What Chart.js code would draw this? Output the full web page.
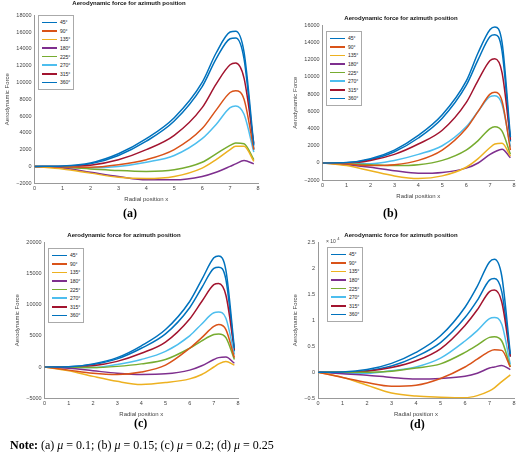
<!DOCTYPE html>
<html>
<head>
<meta charset="utf-8">
<script src="https://cdn.jsdelivr.net/npm/chart.js@4.4.1/dist/chart.umd.min.js"></script>
<style>
  body { margin: 0; background: #fff; width: 520px; height: 459px; position: relative; overflow: hidden; font-family: "Liberation Sans", Arial, sans-serif; }
  .panel { position: absolute; }
  .legend { position: absolute; background: #fff; border: 1px solid #aaa; padding: 2px 3px; font-size: 5px; color: #222; }
  .legend div { display: flex; align-items: center; height: 8.6px; }
  .legend span.sw { display: inline-block; width: 15px; height: 1.6px; margin-right: 3px; }
  .cap { position: absolute; font-family: "Liberation Serif", "Times New Roman", serif; font-weight: bold; font-size: 12px; }
  .note { position: absolute; left: 10px; top: 438px; font-family: "Liberation Serif", "Times New Roman", serif; font-size: 12px; }
  .exp { position: absolute; font-size: 5px; color: #444; }
</style>
</head>
<body>
<div class="panel" style="left:0;top:0;width:262px;height:207px"><canvas id="ca"></canvas></div>
<div class="panel" style="left:288px;top:15px;width:230px;height:189px"><canvas id="cb"></canvas></div>
<div class="panel" style="left:10px;top:232px;width:232px;height:190px"><canvas id="cc"></canvas></div>
<div class="panel" style="left:288px;top:232px;width:230px;height:190px"><canvas id="cd"></canvas></div>
<div class="cap" style="left:123px;top:206px">(a)</div>
<div class="cap" style="left:383px;top:206px">(b)</div>
<div class="cap" style="left:134px;top:416px">(c)</div>
<div class="cap" style="left:410px;top:417px">(d)</div>
<div class="exp" style="left:326px;top:236px">× 10 <sup>4</sup></div>
<div class="note"><b>Note:</b> (a) <i>μ</i> = 0.1; (b) <i>μ</i> = 0.15; (c) <i>μ</i> = 0.2; (d) <i>μ</i> = 0.25</div>
<script>
// posições radiais amostradas
var xs = [0, 1, 2, 3, 4, 5, 6, 6.5, 7, 7.2, 7.5, 7.85];
var labels = ['45°', '90°', '135°', '180°', '225°', '270°', '315°', '360°'];
var colors = ['#0072BD', '#D95319', '#EDB120', '#7E2F8E', '#77AC30', '#4DBEEE', '#A2142F', '#0072BD'];

// (a) mu = 0.1
var serieA45  = [0, 50, 400, 1500, 3300, 5800, 10000, 13500, 16000, 16100, 13600, 2500];
var serieA90  = [0, -50, -100, 200, 800, 2000, 4500, 6700, 8800, 9000, 8000, 2000];
var serieA135 = [0, -300, -800, -1300, -1450, -1200, -200, 800, 2000, 2400, 2400, 600];
var serieA180 = [0, -200, -700, -1200, -1600, -1600, -1200, -700, 0, 300, 700, 300];
var serieA225 = [0, -100, -300, -500, -600, -400, 500, 1500, 2500, 2800, 2700, 800];
var serieA270 = [0, -50, -150, 0, 500, 1300, 3300, 5000, 7000, 7200, 6200, 1700];
var serieA315 = [0, 0, 150, 800, 2000, 3700, 7000, 9800, 12100, 12300, 10500, 2700];
var serieA360 = [0, 30, 300, 1300, 3000, 5400, 9500, 12800, 15200, 15300, 12800, 2000];

// (b) mu = 0.15
var serieB45  = [0, 50, 500, 1500, 3200, 5600, 9500, 12800, 15500, 15800, 14000, 3000];
var serieB90  = [0, -100, -300, -200, 300, 1500, 4000, 6000, 8000, 8200, 7200, 1500];
var serieB135 = [0, -300, -900, -1500, -1800, -1500, -500, 500, 1800, 2200, 2300, 800];
var serieB180 = [0, -200, -500, -900, -1200, -1100, -600, 0, 1000, 1300, 1600, 600];
var serieB225 = [0, -100, -200, -300, -200, 300, 1500, 2600, 4000, 4200, 3700, 1000];
var serieB270 = [0, -50, -100, 300, 1000, 2000, 4200, 6000, 7700, 7800, 6800, 1900];
var serieB315 = [0, 0, 300, 1000, 2200, 3800, 7000, 9600, 11900, 12100, 10500, 2700];
var serieB360 = [0, 30, 400, 1300, 2900, 5200, 9000, 12000, 14700, 14900, 13000, 2500];

// (c) mu = 0.2
var serieC45  = [0, 50, 500, 1500, 3400, 6000, 10500, 14000, 17500, 17800, 15500, 3000];
var serieC90  = [0, -500, -1000, -1200, -800, 300, 3000, 4700, 6500, 6800, 6000, 1500];
var serieC135 = [0, -600, -1500, -2300, -2800, -2500, -1900, -1200, 0, 500, 900, 300];
var serieC180 = [0, -200, -600, -1000, -1200, -1100, -500, 200, 1200, 1500, 1600, 600];
var serieC225 = [0, -100, -100, 100, 500, 1200, 3000, 4200, 5200, 5300, 4700, 1200];
var serieC270 = [0, -100, -100, 400, 1200, 2500, 5000, 6900, 8700, 8800, 7800, 2000];
var serieC315 = [0, 0, 200, 900, 2200, 4000, 7700, 10500, 13200, 13400, 11500, 2700];
var serieC360 = [0, 30, 400, 1300, 3000, 5300, 9500, 12700, 15800, 16000, 14000, 2500];

// (d) mu = 0.25 (x 10^4)
var serieD45  = [0, 0.005, 0.05, 0.17, 0.38, 0.7, 1.25, 1.65, 2.12, 2.17, 1.85, 0.35];
var serieD90  = [0, -0.1, -0.2, -0.27, -0.25, -0.12, 0.1, 0.25, 0.4, 0.43, 0.42, 0.1];
var serieD135 = [0, -0.1, -0.25, -0.4, -0.46, -0.48, -0.49, -0.45, -0.36, -0.3, -0.18, -0.05];
var serieD180 = [0, -0.03, -0.06, -0.1, -0.13, -0.12, -0.08, -0.02, 0.08, 0.1, 0.13, 0.05];
var serieD225 = [0, 0, 0, 0.02, 0.08, 0.16, 0.38, 0.52, 0.67, 0.68, 0.6, 0.1];
var serieD270 = [0, -0.02, -0.02, 0.03, 0.1, 0.27, 0.6, 0.8, 1.03, 1.05, 0.92, 0.15];
var serieD315 = [0, 0, 0.02, 0.09, 0.22, 0.45, 0.9, 1.2, 1.55, 1.58, 1.35, 0.3];
var serieD360 = [0, 0, 0.03, 0.12, 0.3, 0.57, 1.05, 1.38, 1.77, 1.8, 1.55, 0.3];

var yTicksA = [-2000, 0, 2000, 4000, 6000, 8000, 10000, 12000, 14000, 16000, 18000];
var yTicksB = [-2000, 0, 2000, 4000, 6000, 8000, 10000, 12000, 14000, 16000];
var yTicksC = [-5000, 0, 5000, 10000, 15000, 20000];
var yTicksD = [-0.5, 0, 0.5, 1, 1.5, 2, 2.5];

function fmt(v) { return v < 0 ? '\u2212' + Math.abs(v) : String(v); }

function criarGrafico(id, series, yTicks, legendPos, titleGap) {
    var datasets = series.map(function (s, i) {
        return {
            label: labels[i],
            data: s.map(function (v, j) { return { x: xs[j], y: v }; }),
            borderColor: colors[i],
            borderWidth: 1.5,
            pointRadius: 0,
            cubicInterpolationMode: 'monotone',
            fill: false
        };
    });
    var axisColor = '#999';
    var tickFont = { size: 5.5, family: 'Liberation Sans' };
    new Chart(document.getElementById(id), {
        type: 'line',
        data: { datasets: datasets },
        options: {
            animation: false,
            responsive: true,
            maintainAspectRatio: false,
            layout: { padding: { right: 4, top: 0 } },
            plugins: {
                legend: { display: false },
                tooltip: { enabled: false },
                title: { display: true, text: 'Aerodynamic force for azimuth position', font: { size: 6, weight: 'bold', family: 'Liberation Sans' }, color: '#111', padding: { top: 0, bottom: titleGap } }
            },
            scales: {
                x: {
                    type: 'linear', min: 0, max: 8,
                    ticks: { stepSize: 1, font: tickFont, color: '#444', maxRotation: 0, padding: 2 },
                    grid: { display: false, drawTicks: false },
                    border: { color: axisColor },
                    title: { display: true, text: 'Radial position x', font: { size: 6 }, color: '#444', padding: { top: 2 } }
                },
                y: {
                    min: yTicks[0], max: yTicks[yTicks.length - 1],
                    afterBuildTicks: function (ax) { ax.ticks = yTicks.map(function (v) { return { value: v }; }); },
                    ticks: { font: tickFont, color: '#444', padding: 3, callback: function (v) { return fmt(v); } },
                    grid: { display: false, drawTicks: false },
                    border: { color: axisColor },
                    title: { display: true, text: 'Aerodynamic Force', font: { size: 6 }, color: '#444', padding: { bottom: 2 } }
                }
            }
        }
    });
    var leg = document.createElement('div');
    leg.className = 'legend';
    leg.style.left = legendPos[0] + 'px';
    leg.style.top = legendPos[1] + 'px';
    labels.forEach(function (l, i) {
        var row = document.createElement('div');
        var sw = document.createElement('span');
        sw.className = 'sw';
        sw.style.background = colors[i];
        row.appendChild(sw);
        row.appendChild(document.createTextNode(l));
        leg.appendChild(row);
    });
    document.body.appendChild(leg);
}

criarGrafico('ca', [serieA45, serieA90, serieA135, serieA180, serieA225, serieA270, serieA315, serieA360], yTicksA, [38, 15], 8);
criarGrafico('cb', [serieB45, serieB90, serieB135, serieB180, serieB225, serieB270, serieB315, serieB360], yTicksB, [326, 31], 3);
criarGrafico('cc', [serieC45, serieC90, serieC135, serieC180, serieC225, serieC270, serieC315, serieC360], yTicksC, [48, 248], 3);
criarGrafico('cd', [serieD45, serieD90, serieD135, serieD180, serieD225, serieD270, serieD315, serieD360], yTicksD, [327, 247], 3);
</script>
</body>
</html>
